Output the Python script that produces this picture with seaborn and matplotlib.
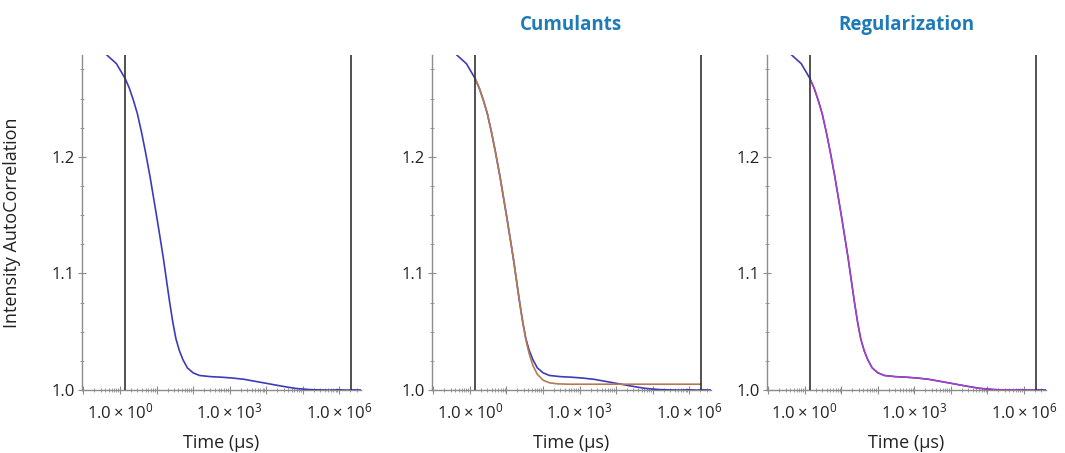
import numpy as np
import pandas as pd
import matplotlib
matplotlib.use("Agg")
import matplotlib.pyplot as plt
import matplotlib.ticker as mticker
import seaborn as sns

# ---- data (time in microseconds, intensity autocorrelation) ----
data_time = [0.43, 0.8, 1.37, 1.8, 2.31, 3.0, 3.93, 5.0, 6.63, 8.0, 10.1, 12.5, 15.4,
             19, 23, 28, 34, 42, 53, 70, 100, 150, 300, 600, 1200, 2500, 5000, 1.0e4,
             2.5e4, 6.0e4, 1.5e5, 3.0e5, 6.0e5, 1.0e6, 1.6e6, 2.5e6, 4.0e6]
data_value = [1.2876, 1.280, 1.2675, 1.259, 1.249, 1.237, 1.2205, 1.204, 1.1833, 1.168,
              1.149, 1.131, 1.113, 1.093, 1.075, 1.058, 1.044, 1.034, 1.026, 1.019,
              1.0148, 1.0125, 1.0115, 1.0110, 1.0103, 1.0092, 1.0075, 1.0058, 1.0035,
              1.0015, 1.0004, 1.0001, 0.9999, 1.0002, 0.9999, 1.0001, 1.0000]

cum_time = [1.37, 1.8, 2.31, 3.0, 3.93, 5.0, 6.63, 8.0, 10.1, 12.5, 15.4, 19, 23, 28,
            34, 42, 53, 70, 100, 150, 250, 500, 1000, 1.0e4, 1.0e5, 2.1e6]
cum_value = [1.2675, 1.259, 1.249, 1.237, 1.2205, 1.204, 1.1833, 1.168, 1.149, 1.131,
             1.113, 1.093, 1.075, 1.058, 1.043, 1.031, 1.021, 1.0135, 1.0085, 1.0062,
             1.0053, 1.0050, 1.0050, 1.0050, 1.0050, 1.0050]

reg_time = [1.37, 1.8, 2.31, 3.0, 3.93, 5.0, 6.63, 8.0, 10.1, 12.5, 15.4, 19, 23, 28,
            34, 42, 53, 70, 100, 150, 300, 600, 1200, 2500, 5000, 1.0e4, 2.5e4, 6.0e4,
            1.5e5, 3.0e5, 1.0e6, 2.1e6]
reg_value = [1.2675, 1.259, 1.249, 1.237, 1.2205, 1.204, 1.1833, 1.168, 1.149, 1.131,
             1.113, 1.093, 1.075, 1.058, 1.044, 1.034, 1.026, 1.019, 1.0148, 1.0125,
             1.0115, 1.0110, 1.0103, 1.0092, 1.0075, 1.0058, 1.0035, 1.0015, 1.0004,
             1.0001, 1.0000, 1.0000]

panel_titles = ["", "Cumulants", "Regularization"]
gate_times = [1.37, 2.1e6]
x_label = "Time (µs)"
y_label = "Intensity AutoCorrelation"
y_ticks = [1.0, 1.1, 1.2]
x_label_decades = [0, 3, 6]

sns.set_theme(style="white")
plt.rcParams["font.family"] = ["Open Sans", "DejaVu Sans"]
plt.rcParams["mathtext.default"] = "regular"

data_color = "#3c3cb8"
cum_color = "#b37a52"
reg_color = "#b03cc8"
axis_color = "#8c8c8c"

fig = plt.figure(figsize=(10.65, 4.53), dpi=100)
lefts = [0.077, 0.4056, 0.720]
width = 0.262
bottom = 0.139
height = 0.740

df_data = pd.DataFrame({"t": data_time, "g": data_value})
df_cum = pd.DataFrame({"t": cum_time, "g": cum_value})
df_reg = pd.DataFrame({"t": reg_time, "g": reg_value})


def fmt(x, pos):
    e = int(round(np.log10(x)))
    if e in x_label_decades:
        return r"$1.0\times10^{%d}$" % e
    return ""


for i, left in enumerate(lefts):
    ax = fig.add_axes([left, bottom, width, height])
    ax.set_xscale("log")
    sns.lineplot(data=df_data, x="t", y="g", ax=ax, color=data_color, lw=1.2,
                 sort=False, estimator=None, zorder=3)
    if i == 1:
        sns.lineplot(data=df_cum, x="t", y="g", ax=ax, color=cum_color, lw=1.2,
                     sort=False, estimator=None, zorder=4)
    if i == 2:
        sns.lineplot(data=df_reg, x="t", y="g", ax=ax, color=reg_color, lw=1.0,
                     sort=False, estimator=None, zorder=4)
    for g in gate_times:
        ax.axvline(g, color="#333333", lw=1.2, zorder=5)

    ax.set_xlim(10 ** -1.04, 10 ** 6.6)
    ax.set_ylim(1.0, 1.2876)
    ax.xaxis.set_major_locator(mticker.FixedLocator([10.0 ** k for k in range(-1, 7)]))
    ax.xaxis.set_major_formatter(mticker.FuncFormatter(fmt))
    ax.xaxis.set_minor_locator(mticker.LogLocator(base=10, subs=np.arange(2, 10), numticks=100))
    ax.xaxis.set_minor_formatter(mticker.NullFormatter())
    ax.yaxis.set_major_locator(mticker.FixedLocator(y_ticks))
    ax.yaxis.set_minor_locator(mticker.MultipleLocator(0.025))
    ax.yaxis.set_major_formatter(mticker.FormatStrFormatter("%.1f"))

    for s in ["top", "right"]:
        ax.spines[s].set_visible(False)
    for s in ["left", "bottom"]:
        ax.spines[s].set_visible(True)
        ax.spines[s].set_color(axis_color)
        ax.spines[s].set_linewidth(1.0)
        ax.spines[s].set_zorder(2)

    ax.tick_params(axis="both", which="major", direction="inout", length=6, width=0.8,
                   color=axis_color, labelsize=12, labelcolor="#222222", bottom=True, left=True)
    ax.tick_params(axis="both", which="minor", direction="inout", length=3, width=0.6,
                   color=axis_color, bottom=True, left=True)
    ax.tick_params(axis="x", which="major", pad=6)
    ax.tick_params(axis="y", which="major", pad=2)

    ax.set_xlabel(x_label, fontsize=13, color="#222222", labelpad=8)
    if i == 0:
        ax.set_ylabel(y_label, fontsize=13, color="#222222", labelpad=22)
    else:
        ax.set_ylabel("")
    if panel_titles[i]:
        ax.set_title(panel_titles[i], fontsize=13.5, fontweight="bold",
                     color="#1f7ab8", pad=18)
    ax.grid(False)

fig.savefig("out.png", dpi=100, facecolor="white")
